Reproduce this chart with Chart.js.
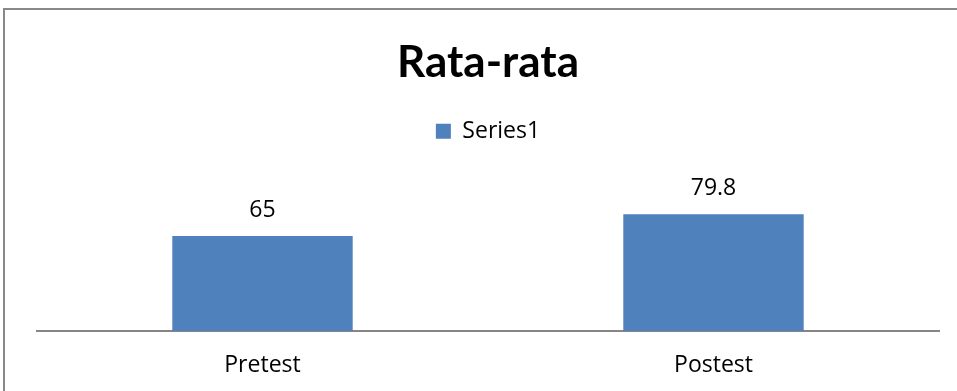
<!DOCTYPE html>
<html lang="en">
<head>
<meta charset="utf-8">
<script src="https://cdn.jsdelivr.net/npm/chart.js@4.4.0/dist/chart.umd.min.js"></script>
<style>
  html, body { margin: 0; padding: 0; background: #fff; }
  #wrap { width: 957px; height: 391px; }
</style>
</head>
<body>
<div id="wrap"><canvas id="chart" width="957" height="391"></canvas></div>
<script>
// data
const categories = ['Pretest', 'Postest'];
const seriesName = 'Series1';
const seriesValues = [65, 79.8];
const chartTitle = 'Rata-rata';

// frame around the chart (only the left and top edges are visible)
const framePlugin = {
  id: 'frame',
  beforeDraw(chart) {
    const c = chart.ctx;
    c.save();
    c.strokeStyle = '#888888';
    c.lineWidth = 2;
    c.beginPath();
    c.moveTo(4, chart.height);
    c.lineTo(4, 9);
    c.lineTo(chart.width, 9);
    c.stroke();
    c.restore();
  }
};

// value labels above the bars
const valueLabels = {
  id: 'valueLabels',
  afterDatasetsDraw(chart) {
    const c = chart.ctx;
    c.save();
    c.font = '23px "Open Sans"';
    c.fillStyle = '#000';
    c.textAlign = 'center';
    c.textBaseline = 'alphabetic';
    chart.getDatasetMeta(0).data.forEach((bar, i) => {
      c.fillText(String(seriesValues[i]), bar.x, bar.y - 19);
    });
    c.restore();
  }
};

const ctx = document.getElementById('chart').getContext('2d');
new Chart(ctx, {
  type: 'bar',
  data: {
    labels: categories,
    datasets: [{
      label: seriesName,
      data: seriesValues,
      backgroundColor: '#4F81BD',
      borderWidth: 0,
      categoryPercentage: 1,
      barPercentage: 0.4
    }]
  },
  options: {
    responsive: false,
    animation: false,
    layout: { padding: { left: 37, right: 18, top: 0, bottom: 0 } },
    plugins: {
      title: {
        display: true,
        text: chartTitle,
        color: '#000',
        font: { family: 'Lato', size: 44, weight: 'bold', lineHeight: 1.2 },
        padding: { top: 36, bottom: 21 }
      },
      // empty subtitle used as a spacer between legend and plot
      subtitle: {
        display: true,
        text: '',
        weight: 500,
        font: { size: 1, lineHeight: 1 },
        padding: { top: 31, bottom: 0 }
      },
      legend: {
        display: true,
        labels: {
          color: '#000',
          font: { family: 'Open Sans', size: 23 },
          boxWidth: 15,
          boxHeight: 15,
          padding: 10
        }
      },
      tooltip: { enabled: false }
    },
    scales: {
      x: {
        grid: { display: false, drawTicks: false },
        border: { display: true, color: '#868686', width: 2 },
        ticks: { color: '#000', font: { family: 'Open Sans', size: 23 }, padding: 21 },
        afterFit(scale) { scale.height = 60; }
      },
      y: {
        display: false,
        min: 0,
        max: 100
      }
    }
  },
  plugins: [framePlugin, valueLabels]
});
</script>
</body>
</html>
